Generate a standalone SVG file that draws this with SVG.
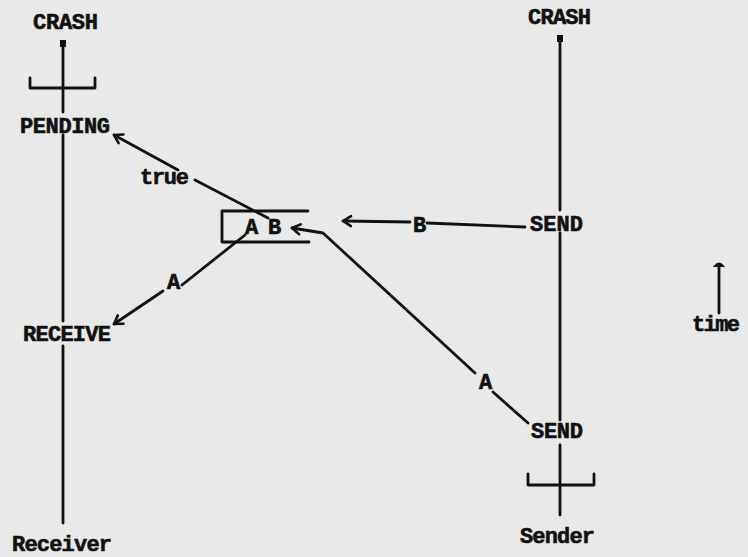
<svg xmlns="http://www.w3.org/2000/svg" width="748" height="557" viewBox="0 0 748 557">
<defs>
<style>
.t{font-family:"Liberation Mono","DejaVu Sans Mono",monospace;font-weight:bold;font-size:22px;fill:#111;stroke:#111;stroke-width:0.6}
.l{stroke:#111;stroke-width:2.8;fill:none;stroke-linecap:round;stroke-linejoin:round}
</style>
<marker id="ah" viewBox="0 0 14 14" refX="12" refY="7" markerWidth="14" markerHeight="14" markerUnits="userSpaceOnUse" orient="auto">
<path d="M4,2 L12,7 L4,12" stroke="#111" stroke-width="2.6" fill="none" stroke-linecap="round" stroke-linejoin="round"/>
</marker>
</defs>
<rect width="748" height="557" fill="#e9e9e9"/>
<g id="receiver">
<text class="t" x="33" y="29" textLength="65">CRASH</text>
<rect x="60" y="40" width="6" height="7" fill="#111"/>
<path class="l" d="M63,45 V112 M63,135 V321 M63,346 V523"/>
<path class="l" d="M30,78 V88 H95 V78"/>
<text class="t" x="20" y="133" textLength="90">PENDING</text>
<text class="t" x="23" y="341" textLength="88">RECEIVE</text>
<text class="t" x="12" y="551" textLength="100">Receiver</text>
</g>
<g id="sender">
<text class="t" x="528" y="24" textLength="63">CRASH</text>
<rect x="557" y="35" width="6" height="7" fill="#111"/>
<path class="l" d="M560,40 V210 M560,233 V420 M560,445 V515"/>
<path class="l" d="M528,474 V485 H594 V474"/>
<text class="t" x="530" y="231" textLength="53">SEND</text>
<text class="t" x="531" y="438" textLength="52">SEND</text>
<text class="t" x="520" y="543" textLength="75">Sender</text>
</g>
<g id="buffer">
<path class="l" d="M308,211 H222 V242 H309"/>
<text class="t" x="245" y="234">A</text>
<text class="t" x="268" y="234">B</text>
</g>
<g id="time">
<path class="l" d="M719,267 V313"/>
<path d="M715,266 Q719,261 723,266 Z" fill="#111" stroke="#111" stroke-width="2"/>
<text class="t" x="692" y="331" textLength="48">time</text>
</g>
<g id="connectors">
<path class="l" d="M268,218 L195,180"/>
<path class="l" d="M178,170 L114,135" marker-end="url(#ah)"/>
<text class="t" x="140" y="184" textLength="49">true</text>
<path class="l" d="M245,235 L182,285"/>
<path class="l" d="M163,291 L114,324" marker-end="url(#ah)"/>
<text class="t" x="167" y="289">A</text>
<path class="l" d="M525,227 L427,223"/>
<path class="l" d="M410,222 L343,221" marker-end="url(#ah)"/>
<text class="t" x="413" y="232">B</text>
<path class="l" d="M528,423 L493,392"/>
<path class="l" d="M475,373 L323,233 L292,228" marker-end="url(#ah)"/>
<text class="t" x="479" y="389">A</text>
</g>
</svg>
